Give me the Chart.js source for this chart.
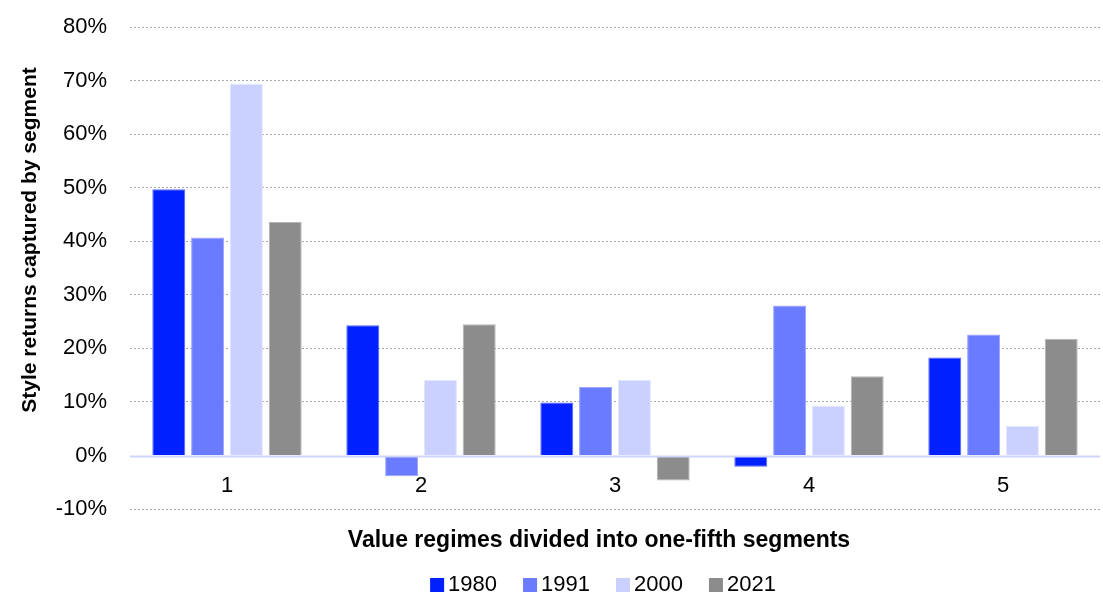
<!DOCTYPE html>
<html>
<head>
<meta charset="utf-8">
<script src="https://cdn.jsdelivr.net/npm/chart.js@4/dist/chart.umd.min.js"></script>
<style>
  html, body { margin: 0; padding: 0; background: #fff; }
  #wrap { width: 1103px; height: 594px; }
</style>
</head>
<body>
<div id="wrap"><canvas id="c" width="1103" height="594"></canvas></div>
<script>
const categories = ['1', '2', '3', '4', '5'];
const seriesNames = ['1980', '1991', '2000', '2021'];
const values1980 = [49.7, 24.3, 9.9, -2.1, 18.3];
const values1991 = [40.7, -3.9, 12.8, 28.0, 22.6];
const values2000 = [69.4, 14.1, 14.1, 9.3, 5.5];
const values2021 = [43.6, 24.5, -4.7, 14.8, 21.8];
const yTicks = [-10, 0, 10, 20, 30, 40, 50, 60, 70, 80];
const xTitle = 'Value regimes divided into one-fifth segments';
const yTitle = 'Style returns captured by segment';

const fillColors = ['#0020ff', '#6a7bff', '#cbd1ff', '#8c8c8c'];
const edgeColors = ['#5566ff', '#9aa6ff', '#e2e6ff', '#b5b5b5'];
const seriesValues = [values1980, values1991, values2000, values2021];

const FONT = '"Liberation Sans", Arial, sans-serif';

const extras = {
  id: 'extras',
  afterDatasetsDraw(chart) {
    const {ctx, chartArea, scales: {x, y}} = chart;
    const y0 = y.getPixelForValue(0);
    ctx.save();
    // zero line
    ctx.strokeStyle = '#cfd4fb';
    ctx.lineWidth = 2;
    ctx.beginPath();
    ctx.moveTo(chartArea.left, y0 + 1);
    ctx.lineTo(chartArea.right, y0 + 1);
    ctx.stroke();
    // category labels next to the zero line
    ctx.fillStyle = '#000';
    ctx.font = '22px ' + FONT;
    ctx.textAlign = 'center';
    ctx.textBaseline = 'middle';
    categories.forEach((c, i) => {
      ctx.fillText(c, x.getPixelForValue(i), y0 + 30);
    });
    // x axis title
    ctx.font = 'bold 23px ' + FONT;
    const cx = (chartArea.left + chartArea.right) / 2 - 16;
    ctx.fillText(xTitle, cx, chartArea.bottom + 32);
    // y axis title
    ctx.save();
    ctx.font = 'bold 21px ' + FONT;
    ctx.translate(30, (chartArea.top + chartArea.bottom) / 2 - 28);
    ctx.rotate(-Math.PI / 2);
    ctx.fillText(yTitle, 0, 0);
    ctx.restore();
    // legend
    ctx.font = '22px ' + FONT;
    ctx.textAlign = 'left';
    const box = 14, gap = 4, spacing = 26;
    const widths = seriesNames.map(n => box + gap + ctx.measureText(n).width);
    const total = widths.reduce((a, b) => a + b, 0) + spacing * (seriesNames.length - 1);
    let lx = (chartArea.left + chartArea.right) / 2 - 12 - total / 2;
    const ly = chartArea.bottom + 76;
    seriesNames.forEach((n, i) => {
      ctx.fillStyle = fillColors[i];
      ctx.fillRect(lx, ly - box / 2, box, box);
      ctx.fillStyle = '#000';
      ctx.fillText(n, lx + box + gap, ly);
      lx += widths[i] + spacing;
    });
    ctx.restore();
  }
};

new Chart(document.getElementById('c'), {
  type: 'bar',
  data: {
    labels: categories,
    datasets: seriesNames.map((n, i) => ({
      label: n,
      data: seriesValues[i],
      backgroundColor: fillColors[i],
      borderColor: edgeColors[i],
      borderWidth: 1,
      categoryPercentage: 0.8,
      barPercentage: 0.85
    }))
  },
  options: {
    responsive: false,
    animation: false,
    layout: { padding: { top: 0, right: 3, left: 10, bottom: 77 } },
    plugins: {
      legend: { display: false },
      tooltip: { enabled: false }
    },
    scales: {
      x: {
        grid: { display: false },
        border: { display: false },
        ticks: { display: false }
      },
      y: {
        min: -10, max: 80,
        afterBuildTicks(scale) { scale.ticks = yTicks.map(v => ({ value: v })); },
        afterFit(scale) { scale.width = 120; scale.paddingTop = 27; },
        grid: {
          drawTicks: false,
          color: ctx => (ctx.tick && ctx.tick.value === 0) ? 'rgba(0,0,0,0)' : '#a8a8a8',
          lineWidth: 1
        },
        border: { display: false, dash: [2, 2] },
        ticks: {
          padding: 23,
          color: '#000',
          font: { family: FONT, size: 22 },
          callback: v => v + '%'
        },
        title: { display: false }
      }
    }
  },
  plugins: [extras]
});
</script>
</body>
</html>
